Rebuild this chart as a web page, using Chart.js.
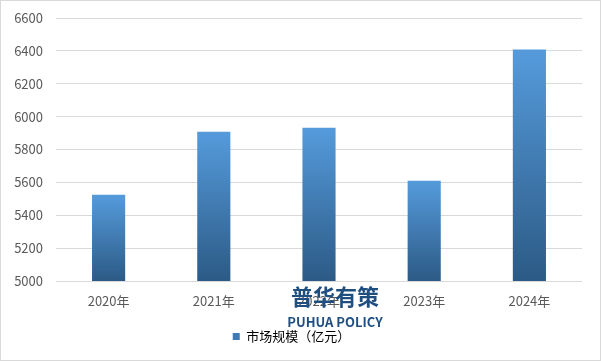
<!DOCTYPE html>
<html lang="zh">
<head>
    <meta charset="UTF-8">
    <title>市场规模</title>
    <script src="https://cdn.jsdelivr.net/npm/chart.js"></script>
    <style>
        body { margin: 0; background: #fff; }
        .box { width: 599px; height: 359px; border: 1px solid #d9d9d9; position: relative; }
    </style>
</head>
<body>
    <div class="box">
        <canvas id="market-chart"></canvas>
    </div>

    <script>
        // 年份与市场规模（亿元）
        const years = ['2020年', '2021年', '2022年', '2023年', '2024年'];
        const marketSize = [5525, 5908, 5933, 5610, 6408];
        const yTicks = [5000, 5200, 5400, 5600, 5800, 6000, 6200, 6400, 6600];

        const fontFamily = '"Noto Sans CJK SC", "Noto Sans", sans-serif';

        // 每根柱子从上到下的渐变
        function barGradient(context) {
            const chart = context.chart;
            const area = chart.chartArea;
            if (!area) return '#4a8ccc';
            const y = chart.scales.y;
            const top = y.getPixelForValue(context.raw);
            const bottom = y.getPixelForValue(yTicks[0]);
            const g = chart.ctx.createLinearGradient(0, top, 0, bottom);
            g.addColorStop(0, '#559bdc');
            g.addColorStop(1, '#2c5a85');
            return g;
        }

        // 水印
        const watermark = {
            id: 'watermark',
            afterDraw(chart) {
                const c = chart.ctx;
                c.save();
                c.fillStyle = '#1f4f80';
                c.textAlign = 'center';
                c.textBaseline = 'middle';
                c.font = 'bold 22px ' + fontFamily;
                c.fillText('普华有策', 334, 296);
                c.font = 'bold 13px ' + fontFamily;
                c.fillText('PUHUA POLICY', 334, 321);
                c.restore();
            }
        };

        new Chart(document.getElementById('market-chart'), {
            type: 'bar',
            data: {
                labels: years,
                datasets: [{
                    label: '市场规模（亿元）',
                    data: marketSize,
                    backgroundColor: barGradient,
                    barPercentage: 0.315,
                    categoryPercentage: 1
                }]
            },
            options: {
                responsive: true,
                maintainAspectRatio: false,
                animation: false,
                layout: { padding: { top: 17, right: 18, bottom: 7, left: 0 } },
                plugins: {
                    legend: {
                        position: 'bottom',
                        labels: {
                            boxWidth: 7,
                            boxHeight: 7,
                            padding: 8,
                            color: '#595959',
                            font: { family: fontFamily, size: 13 },
                            generateLabels: () => [{ text: '市场规模（亿元）', fillStyle: '#3f7ab5', strokeStyle: '#3f7ab5', lineWidth: 0 }]
                        }
                    },
                    tooltip: { enabled: false }
                },
                scales: {
                    x: {
                        grid: { display: false },
                        border: { display: false },
                        ticks: { color: '#595959', padding: 4, font: { family: fontFamily, size: 13 } },
                        afterFit: (s) => { s.height = 41; }
                    },
                    y: {
                        min: yTicks[0],
                        max: yTicks[yTicks.length - 1],
                        afterBuildTicks: (s) => { s.ticks = yTicks.map(v => ({ value: v })); },
                        grid: { color: '#d9d9d9', drawTicks: false },
                        border: { display: false },
                        ticks: {
                            color: '#595959',
                            padding: 13,
                            font: { family: fontFamily, size: 13 },
                            callback: (v) => String(v)
                        },
                        afterFit: (s) => { s.width = 55; s.paddingTop = 0; s.paddingBottom = 0; }
                    }
                }
            },
            plugins: [watermark]
        });
    </script>
</body>
</html>
